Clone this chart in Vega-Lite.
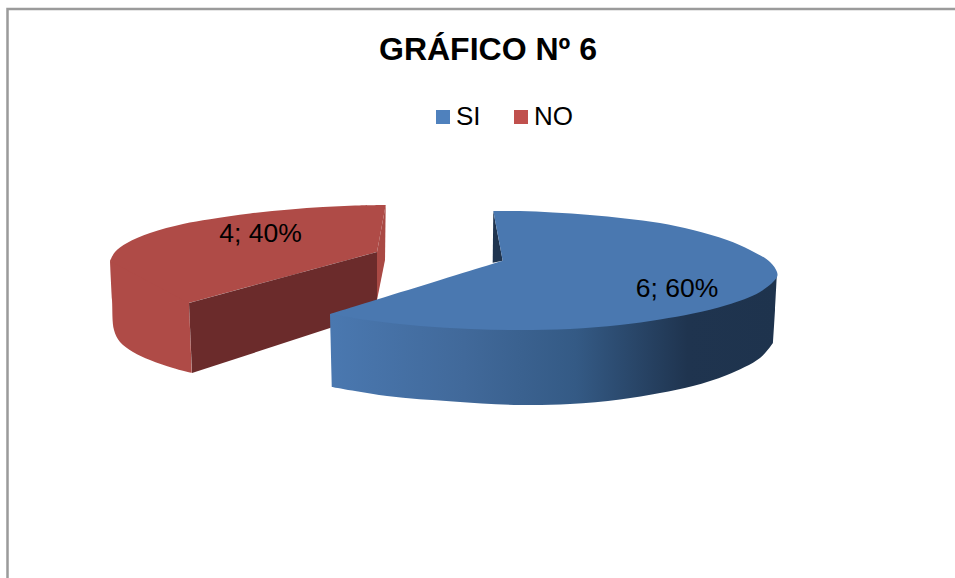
{
  "$schema": "https://vega.github.io/schema/vega-lite/v6.json",
  "width": 955,
  "height": 578,
  "padding": 0,
  "autosize": {"type": "none"},
  "background": "white",
  "view": {"stroke": null},
  "title": {
    "text": "GRÁFICO Nº 6",
    "font": "Liberation Sans",
    "fontSize": 32,
    "fontWeight": "bold",
    "color": "#000000",
    "anchor": "start",
    "frame": "group",
    "align": "left",
    "baseline": "alphabetic",
    "dx": 379,
    "dy": 31,
    "offset": -61
  },
  "datasets": {
    "slices": [
      {"slice": "SI", "value": 6, "percent": 60, "x": 677, "y": 297},
      {"slice": "NO", "value": 4, "percent": 40, "x": 260.5, "y": 242}
    ],
    "outline": [
      {"part": "frame", "seq": 1, "x": 7.5, "y": 578},
      {"part": "frame", "seq": 2, "x": 7.5, "y": 9},
      {"part": "frame", "seq": 3, "x": 955, "y": 9},

      {"part": "noSide", "seq": 1, "x": 110, "y": 261},
      {"part": "noSide", "seq": 2, "x": 112, "y": 300},
      {"part": "noSide", "seq": 3, "x": 114, "y": 330},
      {"part": "noSide", "seq": 4, "x": 120, "y": 342},
      {"part": "noSide", "seq": 5, "x": 133, "y": 352},
      {"part": "noSide", "seq": 6, "x": 150, "y": 360},
      {"part": "noSide", "seq": 7, "x": 173, "y": 368},
      {"part": "noSide", "seq": 8, "x": 192, "y": 373},
      {"part": "noSide", "seq": 9, "x": 192, "y": 373},
      {"part": "noSide", "seq": 10, "x": 189, "y": 303},
      {"part": "noSide", "seq": 11, "x": 189, "y": 303},
      {"part": "noSide", "seq": 12, "x": 189, "y": 270},
      {"part": "noSide", "seq": 13, "x": 189, "y": 270},

      {"part": "noTop", "seq": 1, "x": 385.7, "y": 205},
      {"part": "noTop", "seq": 2, "x": 355, "y": 205.5},
      {"part": "noTop", "seq": 3, "x": 323, "y": 207},
      {"part": "noTop", "seq": 4, "x": 290, "y": 209.5},
      {"part": "noTop", "seq": 5, "x": 250, "y": 213.5},
      {"part": "noTop", "seq": 6, "x": 210, "y": 219.3},
      {"part": "noTop", "seq": 7, "x": 183, "y": 224},
      {"part": "noTop", "seq": 8, "x": 150, "y": 233},
      {"part": "noTop", "seq": 9, "x": 127, "y": 243},
      {"part": "noTop", "seq": 10, "x": 115, "y": 252},
      {"part": "noTop", "seq": 11, "x": 110, "y": 261},
      {"part": "noTop", "seq": 12, "x": 110, "y": 261},
      {"part": "noTop", "seq": 13, "x": 189, "y": 303},
      {"part": "noTop", "seq": 14, "x": 189, "y": 303},
      {"part": "noTop", "seq": 15, "x": 377, "y": 252},
      {"part": "noTop", "seq": 16, "x": 377, "y": 252},

      {"part": "noInner", "seq": 1, "x": 189, "y": 303},
      {"part": "noInner", "seq": 2, "x": 377, "y": 252},
      {"part": "noInner", "seq": 3, "x": 377, "y": 310},
      {"part": "noInner", "seq": 4, "x": 330, "y": 328},
      {"part": "noInner", "seq": 5, "x": 192, "y": 373},

      {"part": "noEdge", "seq": 1, "x": 385.7, "y": 205},
      {"part": "noEdge", "seq": 2, "x": 377, "y": 252},
      {"part": "noEdge", "seq": 3, "x": 377, "y": 300},
      {"part": "noEdge", "seq": 4, "x": 385, "y": 260},

      {"part": "siInner", "seq": 1, "x": 493.3, "y": 211},
      {"part": "siInner", "seq": 2, "x": 502.7, "y": 260.7},
      {"part": "siInner", "seq": 3, "x": 492.7, "y": 262.7},

      {"part": "siSide", "seq": 1, "x": 777, "y": 272},
      {"part": "siSide", "seq": 2, "x": 775, "y": 310},
      {"part": "siSide", "seq": 3, "x": 773, "y": 343},
      {"part": "siSide", "seq": 4, "x": 773, "y": 343},
      {"part": "siSide", "seq": 5, "x": 760, "y": 358},
      {"part": "siSide", "seq": 6, "x": 727, "y": 375},
      {"part": "siSide", "seq": 7, "x": 693, "y": 386},
      {"part": "siSide", "seq": 8, "x": 660, "y": 393},
      {"part": "siSide", "seq": 9, "x": 620, "y": 399.5},
      {"part": "siSide", "seq": 10, "x": 570, "y": 404},
      {"part": "siSide", "seq": 11, "x": 520, "y": 405},
      {"part": "siSide", "seq": 12, "x": 453, "y": 401.5},
      {"part": "siSide", "seq": 13, "x": 387, "y": 396},
      {"part": "siSide", "seq": 14, "x": 332, "y": 387},
      {"part": "siSide", "seq": 15, "x": 332, "y": 387},
      {"part": "siSide", "seq": 16, "x": 330, "y": 314},
      {"part": "siSide", "seq": 17, "x": 330, "y": 314},

      {"part": "siTop", "seq": 1, "x": 493.3, "y": 211},
      {"part": "siTop", "seq": 2, "x": 493.3, "y": 211},
      {"part": "siTop", "seq": 3, "x": 520, "y": 211},
      {"part": "siTop", "seq": 4, "x": 553, "y": 212.5},
      {"part": "siTop", "seq": 5, "x": 590, "y": 215},
      {"part": "siTop", "seq": 6, "x": 625, "y": 218.5},
      {"part": "siTop", "seq": 7, "x": 660, "y": 223},
      {"part": "siTop", "seq": 8, "x": 693, "y": 230},
      {"part": "siTop", "seq": 9, "x": 727, "y": 240},
      {"part": "siTop", "seq": 10, "x": 750, "y": 250},
      {"part": "siTop", "seq": 11, "x": 770, "y": 262},
      {"part": "siTop", "seq": 12, "x": 777, "y": 272},
      {"part": "siTop", "seq": 13, "x": 777, "y": 277},
      {"part": "siTop", "seq": 14, "x": 760, "y": 292},
      {"part": "siTop", "seq": 15, "x": 727, "y": 305},
      {"part": "siTop", "seq": 16, "x": 693, "y": 313.5},
      {"part": "siTop", "seq": 17, "x": 660, "y": 319.5},
      {"part": "siTop", "seq": 18, "x": 620, "y": 325},
      {"part": "siTop", "seq": 19, "x": 570, "y": 329},
      {"part": "siTop", "seq": 20, "x": 520, "y": 330},
      {"part": "siTop", "seq": 21, "x": 470, "y": 329},
      {"part": "siTop", "seq": 22, "x": 420, "y": 326},
      {"part": "siTop", "seq": 23, "x": 370, "y": 320.5},
      {"part": "siTop", "seq": 24, "x": 330, "y": 314},
      {"part": "siTop", "seq": 25, "x": 330, "y": 314},
      {"part": "siTop", "seq": 26, "x": 502.7, "y": 260.7},
      {"part": "siTop", "seq": 27, "x": 502.7, "y": 260.7}
    ]
  },
  "data": {"name": "outline"},
  "encoding": {
    "x": {"field": "x", "type": "quantitative", "axis": null, "scale": {"domain": [0, 955], "nice": false, "zero": false}},
    "y": {"field": "y", "type": "quantitative", "axis": null, "scale": {"domain": [578, 0], "nice": false, "zero": false}},
    "order": {"field": "seq", "type": "quantitative"}
  },
  "layer": [
    {
      "transform": [{"filter": "datum.part === 'frame'"}],
      "mark": {"type": "line", "stroke": "#9b9b9b", "strokeWidth": 2.5, "clip": false}
    },
    {
      "transform": [{"filter": "datum.part === 'noSide'"}],
      "mark": {"type": "line", "stroke": null, "fill": "#af4b47", "interpolate": "catmull-rom"}
    },
    {
      "transform": [{"filter": "datum.part === 'noTop'"}],
      "mark": {"type": "line", "stroke": null, "fill": "#af4b47", "interpolate": "catmull-rom"}
    },
    {
      "transform": [{"filter": "datum.part === 'noInner'"}],
      "mark": {"type": "line", "stroke": null, "fill": "#6b2b2b"}
    },
    {
      "transform": [{"filter": "datum.part === 'noEdge'"}],
      "mark": {"type": "line", "stroke": null, "fill": "#a94944"}
    },
    {
      "transform": [{"filter": "datum.part === 'siInner'"}],
      "mark": {"type": "line", "stroke": null, "fill": "#1f344f"}
    },
    {
      "transform": [{"filter": "datum.part === 'siSide'"}],
      "mark": {
        "type": "line",
        "stroke": null,
        "interpolate": "catmull-rom",
        "fill": {
          "gradient": "linear",
          "x1": 0, "y1": 0, "x2": 1, "y2": 0,
          "stops": [
            {"offset": 0, "color": "#4a78b0"},
            {"offset": 0.3, "color": "#41699a"},
            {"offset": 0.55, "color": "#345a85"},
            {"offset": 0.8, "color": "#1f344f"},
            {"offset": 1, "color": "#1e334d"}
          ]
        }
      }
    },
    {
      "transform": [{"filter": "datum.part === 'siTop'"}],
      "mark": {"type": "line", "stroke": null, "fill": "#4a78b0", "interpolate": "catmull-rom"}
    },
    {
      "data": {"name": "slices"},
      "transform": [{"calculate": "datum.value + '; ' + datum.percent + '%'", "as": "label"}],
      "mark": {"type": "text", "font": "Liberation Sans", "fontSize": 26.5, "align": "center", "baseline": "alphabetic", "color": "#000000"},
      "encoding": {
        "text": {"field": "label", "type": "nominal"},
        "order": {"value": null}
      }
    },
    {
      "data": {"name": "slices"},
      "mark": {"type": "square", "size": 0, "opacity": 0},
      "encoding": {
        "order": {"value": null},
        "color": {
          "field": "slice",
          "type": "nominal",
          "scale": {"domain": ["SI", "NO"], "range": ["#4f81bd", "#c0504d"]},
          "legend": {
            "title": null,
            "orient": "none",
            "legendX": 430,
            "legendY": 104,
            "direction": "horizontal",
            "symbolType": "square",
            "symbolSize": 196,
            "symbolOpacity": 1,
            "symbolStrokeWidth": 0,
            "labelFont": "Liberation Sans",
            "labelFontSize": 26,
            "labelColor": "#000000",
            "labelOffset": 0,
            "columnPadding": 27
          }
        }
      }
    }
  ]
}
